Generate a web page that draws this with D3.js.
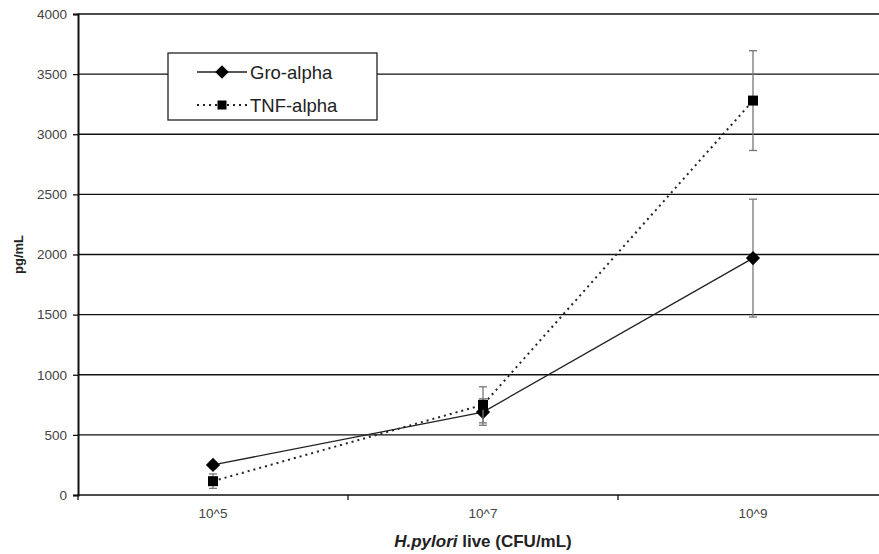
<!DOCTYPE html>
<html>
<head>
<meta charset="utf-8">
<script src="https://cdn.jsdelivr.net/npm/d3@7"></script>
<style>
  body { margin: 0; background: #fff; }
  svg { display: block; font-family: "Liberation Sans", Arial, sans-serif; }
</style>
</head>
<body>
<div id="wrapper"></div>
<script>
const categories = ["10^5", "10^7", "10^9"];
const yTicks = [0, 500, 1000, 1500, 2000, 2500, 3000, 3500, 4000];
const groValues = [250, 690, 1970];
const groErrors = [25, 110, 490];
const tnfValues = [115, 750, 3280];
const tnfErrors = [60, 150, 415];

const dimension = {
    width: 879,
    height: 554,
    margin: { top: 14, left: 78, bottom: 59, right: -9 }
};
dimension.boundedWidth = dimension.width - dimension.margin.left - dimension.margin.right;
dimension.boundedHeight = dimension.height - dimension.margin.top - dimension.margin.bottom;

const svg = d3.select("#wrapper").append("svg")
    .attr("width", dimension.width)
    .attr("height", dimension.height);

const bounded = svg.append("g")
    .attr("transform", `translate(${dimension.margin.left},${dimension.margin.top})`);

const xScaler = d3.scaleBand()
    .domain(categories)
    .range([0, dimension.boundedWidth]);

const yScaler = d3.scaleLinear()
    .domain([0, 4000])
    .range([dimension.boundedHeight, 0]);

// gridlines
bounded.append("g")
    .selectAll("line")
    .data(yTicks)
    .join("line")
    .attr("x1", 0)
    .attr("x2", dimension.boundedWidth)
    .attr("y1", d => yScaler(d))
    .attr("y2", d => yScaler(d))
    .attr("stroke", "#111")
    .attr("stroke-width", 1.3);

// y axis
const yAxis = bounded.append("g")
    .call(d3.axisLeft(yScaler).tickValues(yTicks).tickFormat(d3.format("d")).tickSize(5).tickPadding(6));
yAxis.select(".domain").attr("stroke", "#111").attr("stroke-width", 2);
yAxis.selectAll(".tick line").attr("stroke", "#111").attr("stroke-width", 1.3);
yAxis.selectAll("text").attr("font-size", 13.5).attr("fill", "#444")
    .attr("font-family", "Liberation Sans, Arial, sans-serif");

// x axis
const xAxis = bounded.append("g")
    .attr("transform", `translate(0,${dimension.boundedHeight})`)
    .call(d3.axisBottom(xScaler).tickSize(0).tickPadding(13));
xAxis.select(".domain").remove();
xAxis.selectAll("text").attr("font-size", 13.5).attr("fill", "#444")
    .attr("font-family", "Liberation Sans, Arial, sans-serif");

// x axis category separators
bounded.append("g")
    .selectAll("line")
    .data(categories)
    .join("line")
    .attr("x1", d => xScaler(d))
    .attr("x2", d => xScaler(d))
    .attr("y1", dimension.boundedHeight)
    .attr("y2", dimension.boundedHeight + 5)
    .attr("stroke", "#111")
    .attr("stroke-width", 1.3);

const cx = d => xScaler(d) + xScaler.bandwidth() / 2;

const series = [
    { name: "Gro-alpha", values: groValues, errors: groErrors, dash: null, marker: "diamond" },
    { name: "TNF-alpha", values: tnfValues, errors: tnfErrors, dash: "2,4", marker: "square" }
];

const line = d3.line()
    .x((d, i) => cx(categories[i]))
    .y(d => yScaler(d));

function drawMarker(g, type, x, y, scale) {
    if (type === "diamond") {
        g.append("path")
            .attr("d", d3.symbol(d3.symbolDiamond2, 130 * scale)())
            .attr("transform", `translate(${x},${y})`)
            .attr("fill", "#000");
    } else {
        const s = 10 * scale;
        g.append("rect")
            .attr("x", x - s / 2).attr("y", y - s / 2)
            .attr("width", s).attr("height", s)
            .attr("fill", "#000");
    }
}

series.forEach(s => {
    const g = bounded.append("g");
    // error bars
    s.values.forEach((v, i) => {
        const x = cx(categories[i]);
        const top = yScaler(v + s.errors[i]);
        const bot = yScaler(v - s.errors[i]);
        g.append("line").attr("x1", x).attr("x2", x).attr("y1", top).attr("y2", bot)
            .attr("stroke", "#777").attr("stroke-width", 1.3);
        [top, bot].forEach(yy => {
            g.append("line").attr("x1", x - 4).attr("x2", x + 4).attr("y1", yy).attr("y2", yy)
                .attr("stroke", "#777").attr("stroke-width", 1.3);
        });
    });
    g.append("path")
        .datum(s.values)
        .attr("d", line)
        .attr("fill", "none")
        .attr("stroke", "#222")
        .attr("stroke-width", s.dash ? 2 : 1.3)
        .attr("stroke-dasharray", s.dash);
    s.values.forEach((v, i) => drawMarker(g, s.marker, cx(categories[i]), yScaler(v), 1));
});

// legend
const legend = svg.append("g").attr("transform", "translate(168,53)");
legend.append("rect")
    .attr("width", 209).attr("height", 67)
    .attr("fill", "#fff").attr("stroke", "#222").attr("stroke-width", 1.3);
series.forEach((s, i) => {
    const ly = 19 + i * 33;
    legend.append("line")
        .attr("x1", 29).attr("x2", 79).attr("y1", ly).attr("y2", ly)
        .attr("stroke", "#222")
        .attr("stroke-width", s.dash ? 2 : 1.3)
        .attr("stroke-dasharray", s.dash);
    drawMarker(legend, s.marker, 54, ly, 0.9);
    legend.append("text")
        .attr("x", 82).attr("y", ly + 7)
        .attr("font-size", 18.5).attr("fill", "#222")
        .text(s.name);
});

// y axis label
svg.append("text")
    .attr("transform", `translate(23,${dimension.margin.top + dimension.boundedHeight / 2}) rotate(-90)`)
    .attr("text-anchor", "middle")
    .attr("font-size", 13).attr("font-weight", "bold").attr("fill", "#222")
    .text("pg/mL");

// x axis label
const xLabel = svg.append("text")
    .attr("x", 483).attr("y", 547)
    .attr("text-anchor", "middle")
    .attr("font-size", 17).attr("font-weight", "bold").attr("fill", "#222");
xLabel.append("tspan").attr("font-style", "italic").text("H.pylori");
xLabel.append("tspan").text(" live (CFU/mL)");
</script>
</body>
</html>
